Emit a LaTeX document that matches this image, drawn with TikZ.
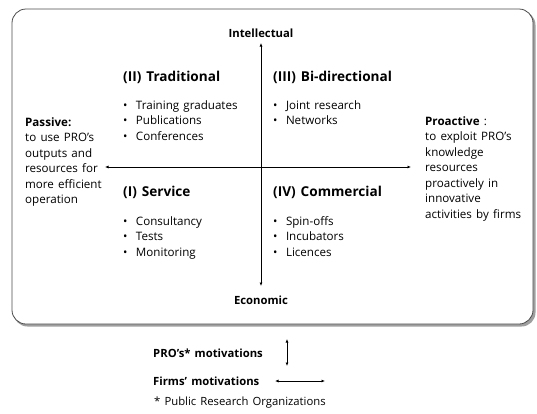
\documentclass[tikz,border=0pt]{standalone}
\usepackage{fontspec}
\setmainfont[WordSpace=1.4]{Open Sans}
\usetikzlibrary{arrows.meta}
\begin{document}
\begin{tikzpicture}[x=1pt,y=-1pt,
  ax/.style={line width=0.7pt,{Latex[length=3.5pt,width=3pt]}-{Latex[length=3.5pt,width=3pt]}},
  head/.style={font=\fontsize{13.6}{15}\selectfont\bfseries,inner sep=0pt,anchor=west},
  axlab/.style={font=\fontsize{11.3}{13}\selectfont\bfseries,inner sep=0pt},
  blist/.style={font=\fontsize{11.6}{15.5}\selectfont,inner sep=0pt,anchor=north west,align=left},
  side/.style={font=\fontsize{11.6}{15.5}\selectfont,inner sep=0pt,anchor=north west,align=left},
  leg/.style={font=\fontsize{11.3}{13}\selectfont\bfseries,inner sep=0pt,anchor=west}]
\useasboundingbox (0,0) rectangle (537,413);
% box with shadow
\fill[gray!75,rounded corners=14pt] (13.5,11) rectangle (535.5,326.5);
\draw[gray!60!black,line width=0.8pt,fill=white,rounded corners=14pt] (12,9) rectangle (533,324);
% axis labels
\node[axlab] (intel) at (261,33) {Intellectual};
\node[axlab] (econ) at (261,300) {Economic};
\coordinate (top) at (261,43);
\coordinate (bot) at (261,286);
\coordinate (lft) at (105,167);
\coordinate (rgt) at (411,167);
\draw[ax] (top) -- (bot);
\draw[ax] (lft) -- (rgt);
% quadrants
\node[head] (q2) at (123,77) {(II) Traditional};
\node[head] (q3) at (273,77) {(III) Bi-directional};
\node[head] (q1) at (123,192) {(I) Service};
\node[head] (q4) at (273,192) {(IV) Commercial};
\node[blist] (l2) at (123,100) {•\ \ Training graduates\\•\ \ Publications\\•\ \ Conferences};
\node[blist] (l3) at (273,100) {•\ \ Joint research\\•\ \ Networks};
\node[blist] (l1) at (123,216) {•\ \ Consultancy\\•\ \ Tests\\•\ \ Monitoring};
\node[blist] (l4) at (273,216) {•\ \ Spin-offs\\•\ \ Incubators\\•\ \ Licences};
% sides
\node[side] (passive) at (25,117) {\textbf{Passive:}\\to use PRO’s\\outputs and\\resources for\\more efficient\\operation};
\node[side] (proactive) at (425,116) {\textbf{Proactive} :\\to exploit PRO’s\\knowledge\\resources\\proactively in\\innovative\\activities by firms};
% legend
\node[leg] (pro) at (153,353) {PRO’s* motivations};
\node[leg] (firm) at (153,381) {Firms’ motivations};
\coordinate (va) at (287,339);
\coordinate (vb) at (287,366);
\coordinate (ha) at (275,381);
\coordinate (hb) at (325,381);
\draw[ax] (va) -- (vb);
\draw[ax] (ha) -- (hb);
\node[font=\fontsize{11.3}{13}\selectfont,inner sep=0pt,anchor=west] (foot) at (154,403) {* Public Research Organizations};
\end{tikzpicture}
\end{document}
